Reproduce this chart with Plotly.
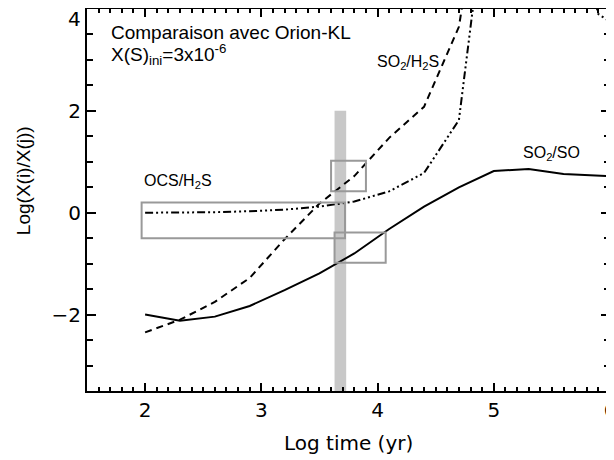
import plotly.graph_objects as go

# log time grid (yr)
log_t = [2.0, 2.3, 2.6, 2.9, 3.2, 3.5, 3.8, 4.1, 4.4, 4.7, 5.0, 5.3, 5.6, 5.9, 6.0]

# abundance ratios, log scale
so2_so = [-2.0, -2.12, -2.04, -1.83, -1.52, -1.19, -0.80, -0.32, 0.12, 0.50, 0.82, 0.86, 0.76, 0.73, 0.72]
so2_h2s = [-2.35, -2.10, -1.75, -1.28, -0.52, 0.18, 0.72, 1.47, 2.08, 3.65, 8.0, 9.0, 9.0, 9.0, 9.0]
ocs_h2s = [0.0, 0.0, 0.01, 0.03, 0.06, 0.12, 0.22, 0.42, 0.78, 1.82, 7.3, 8.0, 6.5, 3.9, 3.75]

# y tick labels
y_ticks = [-2, 0, 2, 4]
y_labels = ['\u22122', '0', '2', '']

# observed ranges (Orion-KL): x0, x1, y0, y1
box_x0 = [1.97, 3.60, 3.63]
box_x1 = [3.72, 3.90, 4.07]
box_y0 = [-0.50, 0.42, -0.98]
box_y1 = [0.20, 1.02, -0.39]

# estimated age band
band_x = [3.63, 3.73]
band_y = [-3.5, 2.0]

fig = go.Figure()

line_styles = [
    (so2_so, 'solid'),
    (so2_h2s, '7px,5px'),
    (ocs_h2s, '8px,3px,2px,3px,2px,3px,2px,3px'),
]
for ys, dash in line_styles:
    fig.add_trace(go.Scatter(x=log_t, y=ys, mode='lines',
                             line=dict(color='black', width=2, dash=dash),
                             showlegend=False))

fig.add_shape(type='rect', x0=band_x[0], x1=band_x[1], y0=band_y[0], y1=band_y[1],
              fillcolor='#c8c8c8', line=dict(width=0), layer='below')

for x0, x1, y0, y1 in zip(box_x0, box_x1, box_y0, box_y1):
    fig.add_shape(type='rect', x0=x0, x1=x1, y0=y0, y1=y1,
                  line=dict(color='#999999', width=2), fillcolor='rgba(0,0,0,0)')

lab_font = dict(family='Liberation Sans, Arial, sans-serif', size=16, color='black')
head_font = dict(family='Liberation Sans, Arial, sans-serif', size=19, color='black')
tick_font = dict(family='DejaVu Sans', size=20, color='black')

fig.add_annotation(x=1.69, y=3.54, text='Comparaison avec Orion-KL', showarrow=False,
                   xanchor='left', yanchor='middle', font=head_font)
fig.add_annotation(x=1.69, y=3.1, text='X(S)<sub>ini</sub>=3x10<sup>-6</sup>', showarrow=False,
                   xanchor='left', yanchor='middle', font=head_font)
fig.add_annotation(x=3.98, y=2.95, text='SO<sub>2</sub>/H<sub>2</sub>S', showarrow=False,
                   xanchor='left', yanchor='middle', font=lab_font)
fig.add_annotation(x=1.97, y=0.61, text='OCS/H<sub>2</sub>S', showarrow=False,
                   xanchor='left', yanchor='middle', font=lab_font)
fig.add_annotation(x=5.23, y=1.16, text='SO<sub>2</sub>/SO', showarrow=False,
                   xanchor='left', yanchor='middle', font=lab_font)

# top "4" label pushed down inside the page, like the original
fig.add_annotation(xref='paper', yref='paper', x=0, y=1.0, text='4', showarrow=False,
                   xanchor='right', yanchor='top', xshift=-4, yshift=4, font=tick_font)

# axis titles as annotations for placement
fig.add_annotation(xref='paper', yref='paper', x=0.5, y=-0.136, text='Log time (yr)',
                   showarrow=False, xanchor='center', yanchor='middle',
                   font=dict(family='DejaVu Sans', size=20, color='black'))
fig.add_annotation(xref='paper', yref='paper', x=-0.12, y=0.55, text='Log(X(i)/X(j))',
                   showarrow=False, textangle=-90, xanchor='center', yanchor='middle',
                   font=dict(family='Liberation Sans, Arial', size=19, color='black'))

axis_common = dict(showline=True, linecolor='black', linewidth=2, mirror='allticks',
                   ticks='inside', tickcolor='black', tickwidth=1.5, showgrid=False,
                   zeroline=False, automargin=False, ticklabeloverflow='allow',
                   tickfont=tick_font)

fig.update_xaxes(range=[1.5, 6.0], dtick=1, tick0=0, ticklen=8,
                 minor=dict(dtick=0.1, ticklen=4, ticks='inside', tickcolor='black', tickwidth=1.5),
                 **axis_common)
fig.update_yaxes(range=[-3.5, 4.0], tickmode='array', tickvals=y_ticks, ticktext=y_labels,
                 ticklen=9,
                 minor=dict(tickmode='linear', tick0=0, dtick=0.5, ticklen=6, ticks='inside',
                            tickcolor='black', tickwidth=1.5),
                 **axis_common)

fig.update_layout(width=606, height=452, margin=dict(l=79, r=4, t=1, b=69),
                  plot_bgcolor='white', paper_bgcolor='white', showlegend=False)

fig.write_html("out.html")
